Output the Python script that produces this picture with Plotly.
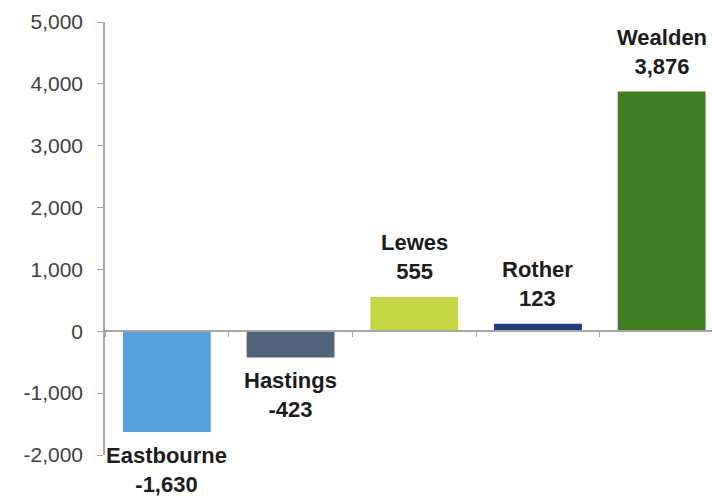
import plotly.graph_objects as go

# Net change by district
districts = ["Eastbourne", "Hastings", "Lewes", "Rother", "Wealden"]
values = [-1630, -423, 555, 123, 3876]
bar_colors = ["#5a9fdb", "#4f6479", "#c5d543", "#1f3d78", "#407d24"]

y_ticks = [-2000, -1000, 0, 1000, 2000, 3000, 4000, 5000]
y_tick_labels = ["-2,000", "-1,000", "0", "1,000", "2,000", "3,000", "4,000", "5,000"]
y_range = [-2000, 5000]

fig = go.Figure()
fig.add_trace(go.Bar(
    x=districts,
    y=values,
    marker=dict(color=bar_colors, line=dict(width=0)),
    showlegend=False,
    hoverinfo="x+y",
))

# Two-line labels: district name over its formatted value
for name, v in zip(districts, values):
    fig.add_annotation(
        x=name, y=v,
        text=f"<b>{name}<br>{v:,}</b>",
        showarrow=False,
        yanchor="bottom" if v >= 0 else "top",
        yshift=11 if v >= 0 else -9,
        font=dict(family="Arial, Liberation Sans, sans-serif", size=22, color="#1c1c1c"),
        align="center",
    )

zero_pos = (0 - y_range[0]) / (y_range[1] - y_range[0])

fig.update_layout(
    width=712, height=499,
    margin=dict(l=105, r=0, t=22, b=44),
    paper_bgcolor="white",
    plot_bgcolor="white",
    bargap=0.29,
    font=dict(family="Arial, Liberation Sans, sans-serif"),
    xaxis=dict(
        type="category",
        range=[-0.5, 4.407],
        anchor="free",
        position=zero_pos,
        showline=True,
        linecolor="#a6a6a6",
        linewidth=1.5,
        ticks="outside",
        tickson="boundaries",
        ticklen=5,
        tickcolor="#a6a6a6",
        showticklabels=False,
        showgrid=False,
        zeroline=False,
    ),
    yaxis=dict(
        range=y_range,
        tickvals=y_ticks,
        ticktext=y_tick_labels,
        showline=True,
        linecolor="#a6a6a6",
        linewidth=1.5,
        ticks="outside",
        ticklen=6,
        tickcolor="#a6a6a6",
        ticklabelstandoff=10,
        showgrid=False,
        zeroline=False,
        tickfont=dict(size=21, color="#404040"),
    ),
)

fig.write_html("out.html")
